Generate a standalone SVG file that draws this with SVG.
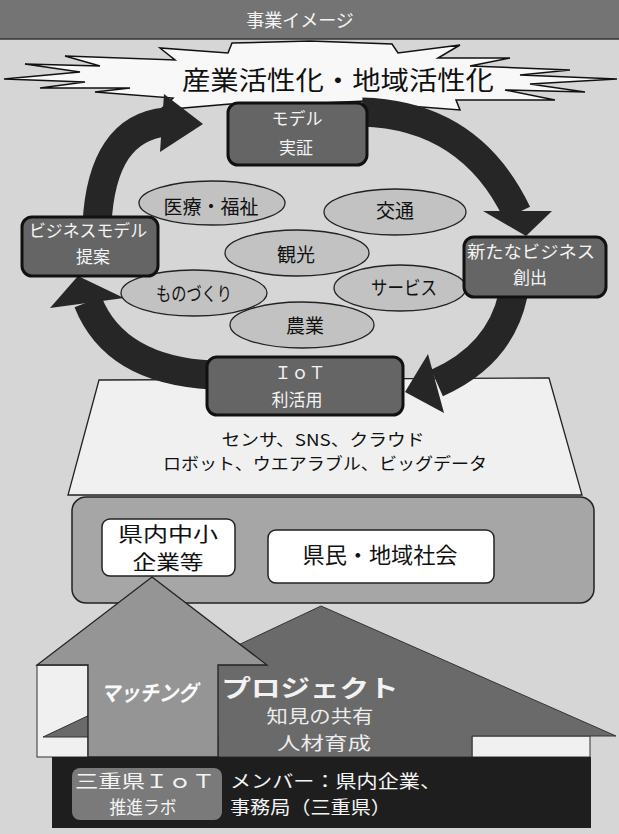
<svg xmlns="http://www.w3.org/2000/svg" width="619" height="834" viewBox="0 0 619 834">
<defs>
<style>
text{font-family:"Noto Sans CJK JP","Noto Sans",sans-serif;text-anchor:middle}
.node rect{fill:#656565;stroke:#111;stroke-width:3}
.node text{fill:#f4f4f4;font-size:17px}
.oval ellipse{fill:#c2c2c2;stroke:#222;stroke-width:1.3}
.oval text{fill:#111;font-size:19px}
.arc{fill:none;stroke:#262626;stroke-width:29}
.head{fill:#262626}
.wbox{fill:#fff;stroke:#222;stroke-width:1.5}
.dark{fill:#1e1e1e}
.light{fill:#f0f0f0;stroke:#333;stroke-width:1}
.bar text{fill:#f4f4f4;font-size:18px}
</style>
</defs>
<rect x="0" y="0" width="619" height="834" fill="#d6d6d6"/>
<g id="title">
<rect x="0" y="0" width="619" height="39" fill="#747474"/>
<line x1="0" y1="39" x2="619" y2="39" stroke="#333" stroke-width="1.5"/>
<text x="300" y="26.5" font-size="18" fill="#f4f4f4">事業イメージ</text>
</g>
<g id="burst">
<polygon points="232,43 310,41 392,44 398,53 460,45 438,58 510,58 470,66 570,70 520,75 617,79 530,84 585,92 505,90 555,100 456,100 460,110 396,105 366,101 300,104 230,104 160,110 173,98 95,92 130,88 40,88 85,82 4,79 80,72 25,64 100,66 65,56 175,60 160,48 228,53" fill="#f8f8f8" stroke="#111" stroke-width="1.5"/>
<text x="338" y="90" font-size="26" fill="#111" textLength="312" lengthAdjust="spacingAndGlyphs">産業活性化・地域活性化</text>
</g>
<g id="trapezoid">
<polygon points="99,380 549,378 582,495 68,495" fill="#f0f0f0" stroke="#222" stroke-width="1.3"/>
<text x="323" y="446" font-size="16.5" fill="#111" textLength="203" lengthAdjust="spacingAndGlyphs">センサ、SNS、クラウド</text>
<text x="325" y="470" font-size="16.5" fill="#111" textLength="324" lengthAdjust="spacingAndGlyphs">ロボット、ウエアラブル、ビッグデータ</text>
</g>
<g id="connectors">
<path class="arc" d="M 97,224 Q 102,128 166,122"/>
<polygon class="head" points="164,94 160,152 203,124"/>
<path class="arc" d="M 362,112 Q 470,115 517,213"/>
<polygon class="head" points="483,211 552,211 526,236"/>
<path class="arc" d="M 513,295 Q 500,355 437,383"/>
<polygon class="head" points="428,354 444,413 405,392"/>
<path class="arc" d="M 212,375 Q 115,370 88,302"/>
<polygon class="head" points="78,276 50,308 124,298"/>
</g>
<g id="oval-iryo" class="oval"><ellipse cx="212" cy="203" rx="73" ry="22"/><text x="211" y="214" textLength="95" lengthAdjust="spacingAndGlyphs">医療・福祉</text></g>
<g id="oval-kotsu" class="oval"><ellipse cx="395" cy="212" rx="71" ry="23"/><text x="395" y="218">交通</text></g>
<g id="oval-kanko" class="oval"><ellipse cx="297" cy="253" rx="72" ry="23"/><text x="296" y="262">観光</text></g>
<g id="oval-service" class="oval"><ellipse cx="400" cy="288" rx="66" ry="23"/><text x="404" y="295" textLength="66" lengthAdjust="spacingAndGlyphs">サービス</text></g>
<g id="oval-monozukuri" class="oval"><ellipse cx="194" cy="293" rx="73" ry="23"/><text x="194" y="301" textLength="76" lengthAdjust="spacingAndGlyphs">ものづくり</text></g>
<g id="oval-nogyo" class="oval"><ellipse cx="302" cy="325" rx="72" ry="23"/><text x="305" y="333">農業</text></g>
<g id="node-model" class="node"><rect x="228" y="103" width="139" height="62" rx="10"/><text x="297" y="125">モデル</text><text x="296" y="154">実証</text></g>
<g id="node-teian" class="node"><rect x="22" y="217" width="136" height="59" rx="10"/><text x="88" y="237" textLength="118" lengthAdjust="spacingAndGlyphs">ビジネスモデル</text><text x="93" y="263">提案</text></g>
<g id="node-sosyutsu" class="node"><rect x="464" y="237" width="142" height="60" rx="10"/><text x="531" y="258" textLength="128" lengthAdjust="spacingAndGlyphs">新たなビジネス</text><text x="530" y="284">創出</text></g>
<g id="node-iot" class="node"><rect x="207" y="357" width="196" height="58" rx="10"/><text x="300" y="379">ＩｏＴ</text><text x="297" y="406">利活用</text></g>
<g id="community">
<rect x="72" y="497" width="522" height="106" rx="14" fill="#a6a6a6" stroke="#222" stroke-width="1.5"/>
</g>
<g id="node-kennai">
<rect class="wbox" x="102" y="519" width="133" height="57" rx="8"/>
<text x="168" y="542" font-size="20" fill="#111" textLength="100" lengthAdjust="spacingAndGlyphs">県内中小</text>
<text x="168" y="570" font-size="20" fill="#111" textLength="71" lengthAdjust="spacingAndGlyphs">企業等</text>
</g>
<g id="node-kenmin">
<rect class="wbox" x="268" y="530" width="226" height="53" rx="8"/>
<text x="380" y="563" font-size="22" fill="#111" textLength="155" lengthAdjust="spacingAndGlyphs">県民・地域社会</text>
</g>
<g id="base">
<rect class="light" x="37" y="665" width="51" height="92"/>
<rect class="light" x="472" y="736" width="118" height="21"/>
</g>
<g id="project">
<polygon points="321,606 616,736 472,736 472,757 218,757 218,737 43,737" fill="#6a6a6a" stroke="#333" stroke-width="1"/>
<text x="310" y="696.5" font-size="24" fill="#f2f2f2" font-weight="bold" textLength="177" lengthAdjust="spacingAndGlyphs">プロジェクト</text>
<text x="320" y="722.5" font-size="18" fill="#ececec" textLength="107" lengthAdjust="spacingAndGlyphs">知見の共有</text>
<text x="324" y="749.5" font-size="18" fill="#ececec" textLength="94" lengthAdjust="spacingAndGlyphs">人材育成</text>
</g>
<g id="matching">
<polygon points="152,577 267,665 218,665 218,757 88,757 88,665 37,665" fill="#959595" stroke="#222" stroke-width="1.3"/>
<text x="149" y="701" font-size="22" fill="#fafafa" font-weight="bold" font-style="italic" textLength="97" lengthAdjust="spacingAndGlyphs">マッチング</text>
</g>
<g id="lab-bar" class="bar">
<rect class="dark" x="52" y="757" width="539" height="71"/>
<rect x="72" y="768" width="150" height="52" rx="8" fill="#7a7a7a"/>
<text x="145" y="787.5" textLength="140" lengthAdjust="spacingAndGlyphs">三重県ＩｏＴ</text>
<text x="143" y="813.5" textLength="67" lengthAdjust="spacingAndGlyphs">推進ラボ</text>
<text x="230" y="787.5" style="text-anchor:start" textLength="211" lengthAdjust="spacingAndGlyphs">メンバー：県内企業、</text>
<text x="230" y="813.5" style="text-anchor:start" textLength="161" lengthAdjust="spacingAndGlyphs">事務局（三重県）</text>
</g>
</svg>
